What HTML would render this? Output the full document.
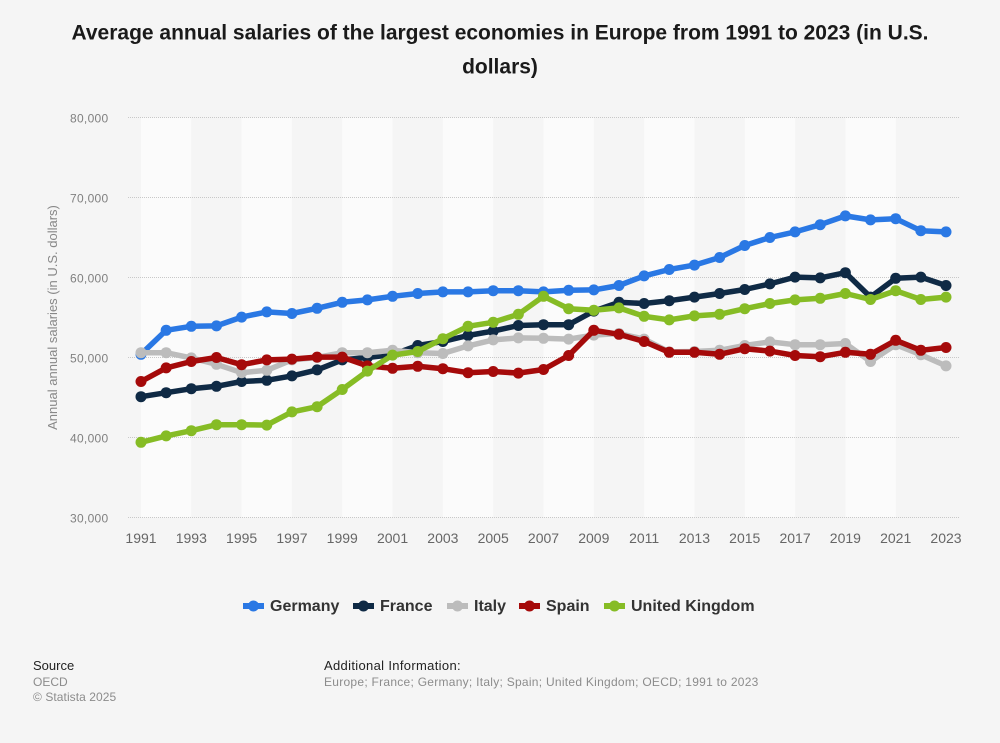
<!DOCTYPE html>
<html lang="en">
<head>
<meta charset="utf-8">
<title>Average annual salaries in Europe</title>
<style>
html,body{margin:0;padding:0;background:#f5f5f5;}
body{width:1000px;height:743px;overflow:hidden;position:relative;font-family:"Liberation Sans",sans-serif;}
svg{position:absolute;left:0;top:0;display:block;}
</style>
</head>
<body>
<svg id="chart" width="1000" height="743" viewBox="0 0 1000 743" font-family="'Liberation Sans',sans-serif">
  <text x="500" y="39.5" text-anchor="middle" font-size="21" font-weight="700" fill="#1a1a1a">Average annual salaries of the largest economies in Europe from 1991 to 2023 (in U.S.</text>
  <text x="500" y="73.5" text-anchor="middle" font-size="21" font-weight="700" fill="#1a1a1a">dollars)</text>
  <g id="bands"></g>
  <g id="grid"></g>
  <g id="yticks"></g>
  <g id="xticks"></g>
  <text transform="translate(57,317.5) rotate(-90)" text-anchor="middle" font-size="13" fill="#888888">Annual annual salaries (in U.S. dollars)</text>
  <g id="series"></g>
  <g id="legend"></g>
  <text x="33" y="670" font-size="13" fill="#222222">Source</text>
  <text x="33" y="686" font-size="12" fill="#8c8c8c">OECD</text>
  <text x="33" y="701" font-size="12" fill="#8c8c8c" letter-spacing="0.07">© Statista 2025</text>
  <text x="324" y="670" font-size="13" fill="#222222" letter-spacing="0.33">Additional Information:</text>
  <text x="324" y="686" font-size="12" fill="#8c8c8c" letter-spacing="0.27">Europe; France; Germany; Italy; Spain; United Kingdom; OECD; 1991 to 2023</text>
</svg>
<script>
var years = [1991,1992,1993,1994,1995,1996,1997,1998,1999,2000,2001,2002,2003,2004,2005,2006,2007,2008,2009,2010,2011,2012,2013,2014,2015,2016,2017,2018,2019,2020,2021,2022,2023];
var yTicks = [30000,40000,50000,60000,70000,80000];
var germany = [50400,53400,53900,53950,55050,55700,55500,56150,56900,57200,57650,58000,58200,58200,58350,58350,58200,58400,58450,59000,60200,61000,61550,62500,64000,65000,65700,66600,67700,67200,67350,65850,65700];
var france = [45100,45600,46100,46400,47000,47150,47700,48450,49700,50000,50350,51500,52000,52750,53300,54000,54100,54100,55800,56900,56750,57100,57550,58000,58500,59200,60050,59950,60600,57550,59900,60050,59000];
var italy = [50600,50600,49950,49150,48100,48400,49700,50000,50600,50600,50900,50600,50500,51450,52200,52450,52400,52300,52800,53000,52300,50700,50750,50900,51500,51950,51600,51600,51750,49500,51600,50350,48950];
var spain = [47000,48700,49500,50000,49100,49700,49800,50050,50050,48950,48650,48900,48600,48100,48250,48050,48500,50250,53400,52900,52000,50650,50650,50400,51100,50800,50250,50100,50650,50400,52150,50900,51250];
var uk = [39400,40200,40850,41600,41600,41550,43200,43850,46000,48300,50300,50750,52350,53900,54400,55400,57650,56100,55900,56200,55150,54700,55200,55400,56100,56750,57200,57400,58000,57250,58350,57250,57550];
var seriesNames = ["Germany","France","Italy","Spain","United Kingdom"];
var seriesColors = ["#2a78e4","#0f2a45","#bcbcbc","#a50a0a","#86bc25"];
var seriesValues = [germany,france,italy,spain,uk];

var NS = "http://www.w3.org/2000/svg";
function xScale(year){ return 141 + (year - 1991) * (946 - 141) / (2023 - 1991); }
function yScale(v){ return 517.5 - (v - 30000) * (517.5 - 117.5) / (80000 - 30000); }
function make(tag, attrs, parent){
  var el = document.createElementNS(NS, tag);
  for (var k in attrs) el.setAttribute(k, attrs[k]);
  parent.appendChild(el);
  return el;
}
function fmt(v){ return String(v).replace(/\B(?=(\d{3})+$)/g, ","); }

var bandsG = document.getElementById("bands");
for (var i = 0; i + 2 < years.length; i += 4) {
  var band = make("rect", {x: xScale(years[i]), y: 117.5, width: xScale(years[i + 2]) - xScale(years[i]), height: 400, fill: "#fbfbfb"}, bandsG);
  
  
}

var gridG = document.getElementById("grid");
var yG = document.getElementById("yticks");
yTicks.forEach(function(t){
  var y = yScale(t);
  var ln = make("line", {x1: 128, x2: 960, y1: y, y2: y, stroke: "#c8c8c8", "stroke-width": 1, "stroke-dasharray": "1 1"}, gridG);
  
  
  var lb = make("text", {x: 108.5, y: y + 4.8, "text-anchor": "end", "font-size": 12, "letter-spacing": 0.3, fill: "#808080"}, yG);
  
  
  lb.textContent = fmt(t);
});

var xG = document.getElementById("xticks");
years.forEach(function(yr, i){
  if (i % 2 !== 0) return;
  var lb = make("text", {x: xScale(yr), y: 543, "text-anchor": "middle", "font-size": 14, fill: "#666666"}, xG);
  
  
  lb.textContent = yr;
});

var sG = document.getElementById("series");
seriesValues.forEach(function(vals, s){
  var g = make("g", {}, sG);
  
  
  var pts = vals.map(function(v, i){ return xScale(years[i]).toFixed(2) + "," + yScale(v).toFixed(2); }).join(" ");
  var line = make("polyline", {points: pts, fill: "none", stroke: seriesColors[s], "stroke-width": 5.5, "stroke-linejoin": "round", "stroke-linecap": "round"}, g);
  
  
  vals.forEach(function(v, i){
    var c = make("circle", {cx: xScale(years[i]), cy: yScale(v), r: 5.5, fill: seriesColors[s]}, g);
    
    
  });
});

var legendX = [243, 353, 447, 519, 604];
var legendG = document.getElementById("legend");
seriesNames.forEach(function(name, s){
  var g = make("g", {}, legendG);
  
  
  var x = legendX[s];
  make("rect", {x: x, y: 603, width: 21, height: 6, fill: seriesColors[s]}, g);
  make("circle", {cx: x + 10.5, cy: 606, r: 5.5, fill: seriesColors[s]}, g);
  var t = make("text", {x: x + 27, y: 611, "font-size": 16, "font-weight": 700, fill: "#333333"}, g);
  
  
  t.textContent = name;
});
</script>
</body>
</html>
